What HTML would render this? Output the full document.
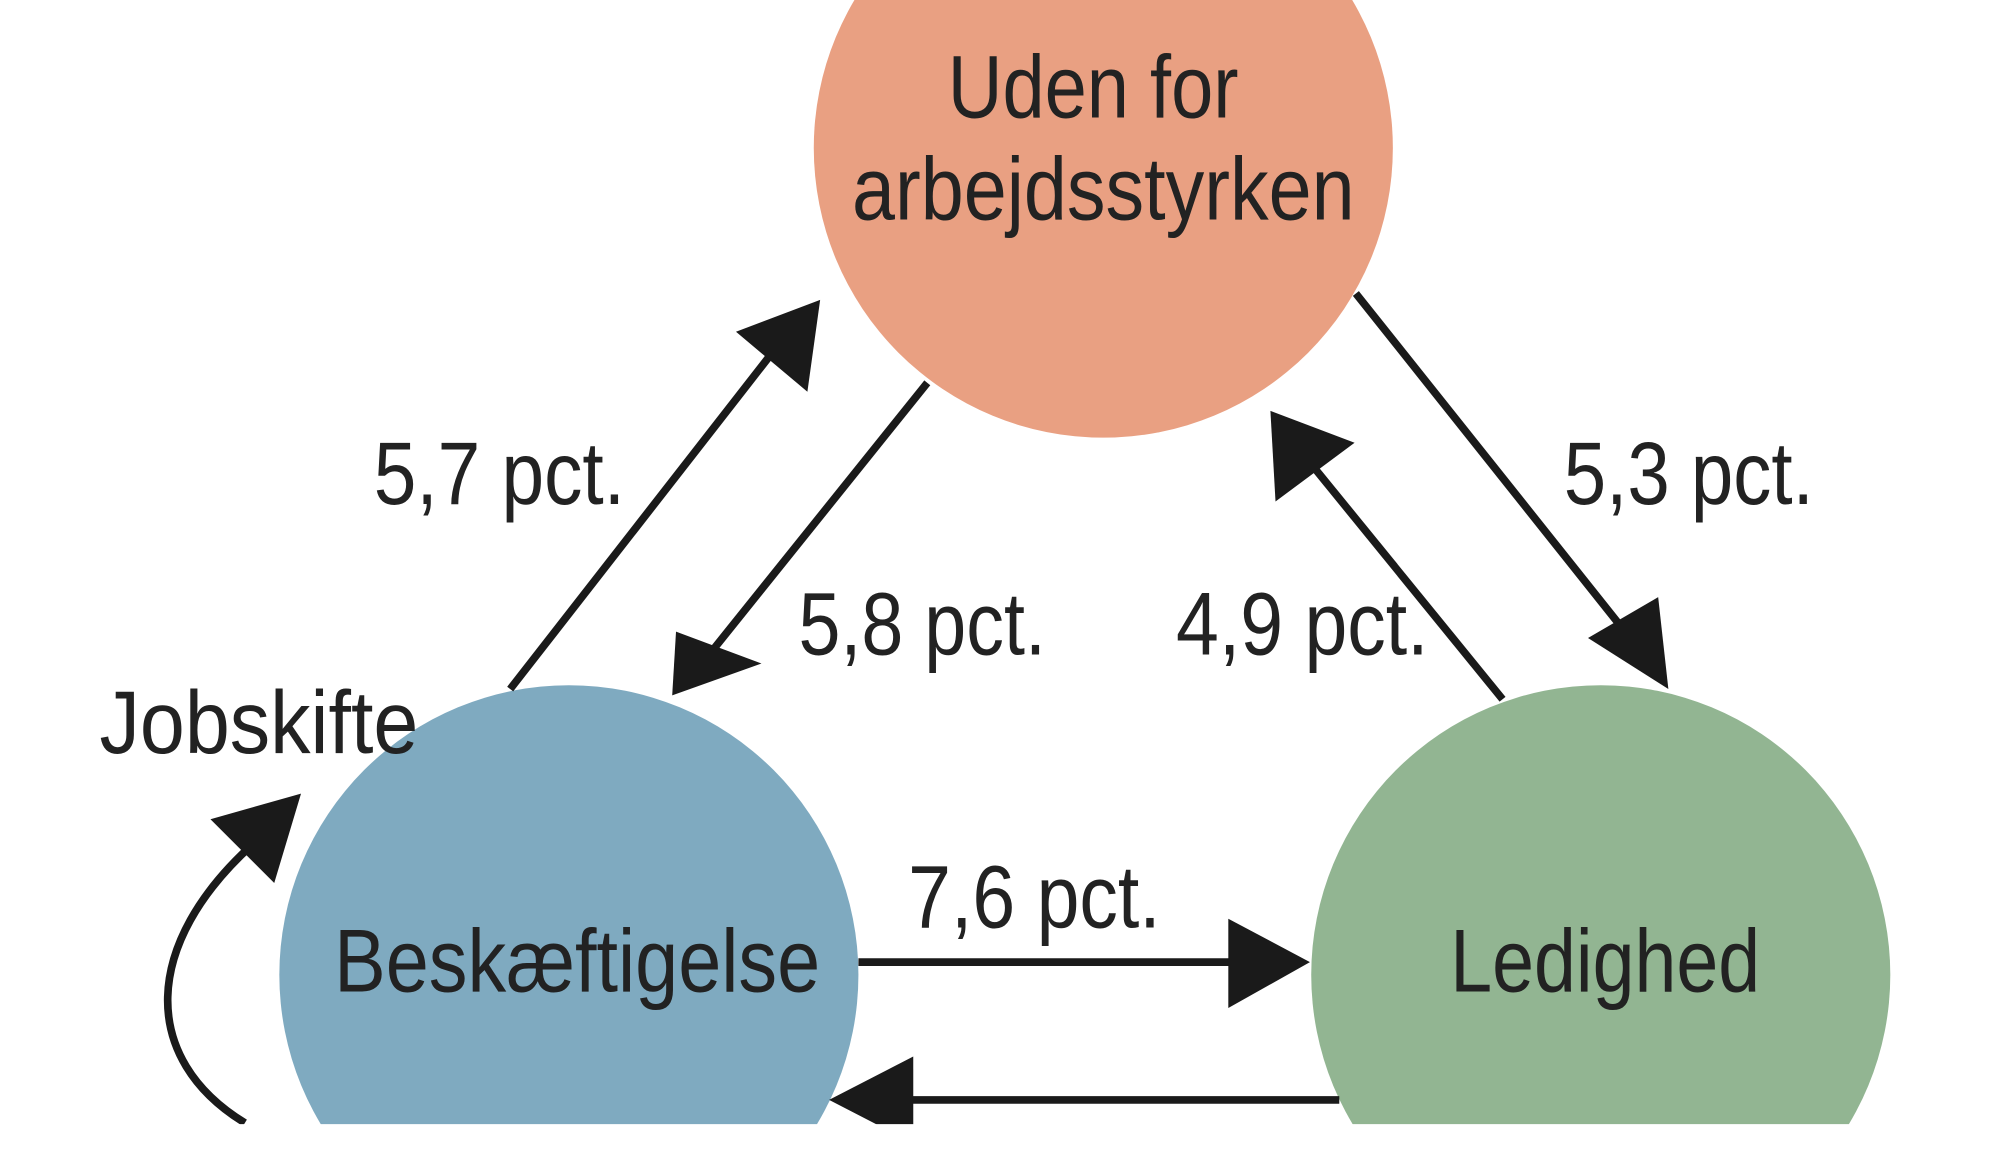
<!DOCTYPE html>
<html><head><meta charset="utf-8"><style>html,body{margin:0;padding:0;background:#fff;overflow:hidden;width:2000px;height:1165px}svg{display:block;position:absolute;left:0;top:0}</style></head>
<body>
<svg width="2000" height="1165" viewBox="0 0 1568 913" preserveAspectRatio="none" xmlns="http://www.w3.org/2000/svg">
<rect width="1568" height="913" fill="#fff"/>
<defs><clipPath id="c"><rect x="0" y="0" width="1568" height="881"/></clipPath></defs>
<g clip-path="url(#c)">
<circle cx="865" cy="116" r="227" fill="#e9a082"/>
<circle cx="446" cy="764" r="227" fill="#7faac0"/>
<circle cx="1255" cy="764" r="227" fill="#92b592"/>
<g stroke="#1a1a1a" stroke-width="6" fill="none">
<line x1="400" y1="540" x2="612" y2="268"/>
<line x1="727" y1="300" x2="560" y2="508"/>
<line x1="1063" y1="230" x2="1282" y2="505"/>
<line x1="1178" y1="548" x2="1025" y2="360"/>
<line x1="673" y1="754" x2="968" y2="754"/>
<line x1="1050" y1="862" x2="712" y2="862"/>
<path d="M192 880 C110 830 110 740 200 660"/>
</g>
<g fill="#1a1a1a">
<polygon points="643,235 577,260 633,307"/>
<polygon points="527,545 530,495 597,520"/>
<polygon points="1308,540 1245,500 1300,468"/>
<polygon points="996,322 1000,393 1062,347"/>
<polygon points="1027,754 963,720 963,790"/>
<polygon points="650,862 716,828 716,896"/>
<polygon points="236,622 165,642 215,692"/>
</g>
<g font-family="'Liberation Sans', sans-serif" font-size="70" fill="#222">
<text x="743" y="92" textLength="228" lengthAdjust="spacingAndGlyphs">Uden for</text>
<text x="668" y="172" textLength="394" lengthAdjust="spacingAndGlyphs">arbejdsstyrken</text>
<text x="293" y="395" textLength="197" lengthAdjust="spacingAndGlyphs">5,7 pct.</text>
<text x="626" y="513" textLength="194" lengthAdjust="spacingAndGlyphs">5,8 pct.</text>
<text x="922" y="513" textLength="198" lengthAdjust="spacingAndGlyphs">4,9 pct.</text>
<text x="1226" y="395" textLength="196" lengthAdjust="spacingAndGlyphs">5,3 pct.</text>
<text x="78" y="590" textLength="250" lengthAdjust="spacingAndGlyphs">Jobskifte</text>
<text x="712" y="727" textLength="198" lengthAdjust="spacingAndGlyphs">7,6 pct.</text>
<text x="262" y="777" textLength="381" lengthAdjust="spacingAndGlyphs">Beskæftigelse</text>
<text x="1137" y="777" textLength="243" lengthAdjust="spacingAndGlyphs">Ledighed</text>
</g>
</g>
</svg>
</body></html>
